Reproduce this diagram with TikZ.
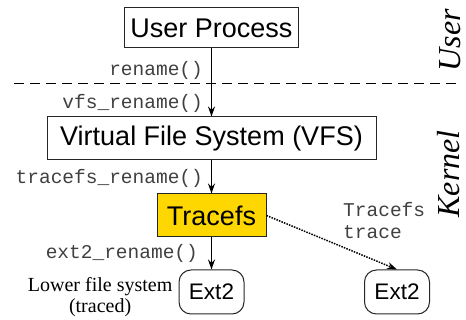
\documentclass[tikz,border=0pt]{standalone}
\usepackage{fontspec}
\setmainfont{Liberation Serif}
\setsansfont{Liberation Sans}
\setmonofont{Liberation Mono}
\usetikzlibrary{arrows.meta,positioning}

\definecolor{tracegold}{RGB}{255,215,0}

\tikzset{
  layer/.style={rectangle, draw=black!85, line width=1pt, font=\sffamily\fontsize{27}{32}\selectfont},
  fsbox/.style={rectangle, rounded corners=12pt, draw=black!85, line width=1pt, minimum width=65pt, minimum height=44pt, font=\sffamily\fontsize{22.5}{26}\selectfont},
  call/.style={font=\ttfamily\fontsize{19.5}{22}\selectfont, text=black!75, inner sep=1pt},
  realm/.style={rotate=90, font=\itshape\fontsize{32}{36}\selectfont},
  flow/.style={-{Stealth[length=10pt,width=7pt]}, line width=1.2pt},
}

\begin{document}
\begin{tikzpicture}[x=1pt,y=-1pt]
\useasboundingbox (0,0) rectangle (466,320);

\node[layer, minimum width=174pt, minimum height=40pt] (user) at (211.5,28) {User Process};
\node[layer, minimum width=329pt, minimum height=43pt] (vfs) at (211.5,138.5) {Virtual File System (VFS)};
\node[layer, fill=tracegold, minimum width=109pt, minimum height=43pt] (tracefs) at (211.5,215.5) {Tracefs};
\node[fsbox] (ext2L) at (211.5,292) {Ext2};
\node[fsbox] (ext2R) at (397,292) {Ext2};

\draw[dash pattern=on 10pt off 6pt, line width=1pt] (14,84) -- (460,84);

\draw[flow] (user) -- node[call, pos=0.32, left=7pt] (rename) {rename()}
  node[call, pos=0.81, left=7pt] (vfsrename) {vfs\_rename()} (vfs);
\draw[flow] (vfs) -- node[call, pos=0.53, left=7pt] (tracerename) {tracefs\_rename()} (tracefs);
\draw[flow] (tracefs) -- node[call, pos=0.5, left=12pt] (ext2rename) {ext2\_rename()} (ext2L);
\draw[flow, dash pattern=on 1.5pt off 1.2pt, line width=1.5pt] (tracefs.east) -- (ext2R.north);

\node[call, align=left, anchor=west] (tracelbl) at (342,221) {Tracefs\\trace};
\node[align=center, inner sep=0pt, font=\fontsize{20}{21}\selectfont, left=6pt of ext2L, yshift=-5pt] (lowerlbl) {Lower file system\\(traced)};

\node[realm] (userlbl) at (450,40) {User};
\node[realm] (kernellbl) at (449,174) {Kernel};
\end{tikzpicture}
\end{document}
